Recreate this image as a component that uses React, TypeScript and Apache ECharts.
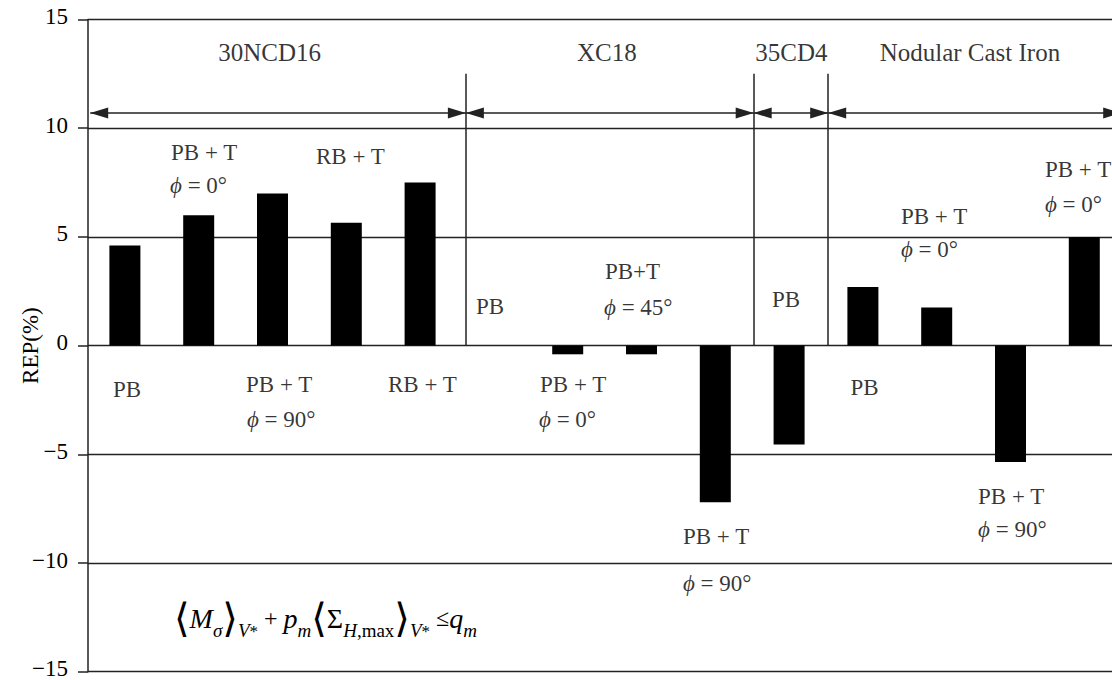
import React, { useEffect, useRef } from "react";
import * as echarts from "echarts";

// ---- data ----
const categories = [
  "30NCD16 PB",
  "30NCD16 PB+T φ=0°",
  "30NCD16 PB+T φ=90°",
  "30NCD16 RB+T (a)",
  "30NCD16 RB+T (b)",
  "XC18 PB",
  "XC18 PB+T φ=0°",
  "XC18 PB+T φ=45°",
  "XC18 PB+T φ=90°",
  "35CD4 PB",
  "Nodular Cast Iron PB",
  "Nodular Cast Iron PB+T φ=0° (a)",
  "Nodular Cast Iron PB+T φ=90°",
  "Nodular Cast Iron PB+T φ=0° (b)",
];
const repValues = [4.6, 6.0, 7.0, 5.65, 7.5, 0, -0.4, -0.4, -7.2, -4.55, 2.7, 1.75, -5.35, 5.0];
const yMin = -15;
const yMax = 15;
const yStep = 5;
const groupNames = ["30NCD16", "XC18", "35CD4", "Nodular Cast Iron"];
const yAxisName = "REP(%)";

// ---- annotation layout (category-index / value coordinates) ----
const groupBounds = [-0.47, 4.62, 8.52, 9.53, 13.5];
const groupNameX = [1.96, 6.53, 9.03, 11.45];
const groupNameY = 13.48;
const arrowY = 10.7;
const dividerTop = 12.5;

const notes = [
  { text: "PB + T", x: 0.625, y: 8.86 },
  { text: "{i|ϕ} = 0°", x: 0.611, y: 7.38 },
  { text: "RB + T", x: 2.589, y: 8.72 },
  { text: "PB", x: -0.161, y: -2.04 },
  { text: "PB + T", x: 1.641, y: -1.81 },
  { text: "{i|ϕ} = 90°", x: 1.654, y: -3.42 },
  { text: "RB + T", x: 3.565, y: -1.81 },
  { text: "PB", x: 4.757, y: 1.82 },
  { text: "PB+T", x: 6.505, y: 3.39 },
  { text: "{i|ϕ} = 45°", x: 6.492, y: 1.73 },
  { text: "PB + T", x: 5.625, y: -1.77 },
  { text: "{i|ϕ} = 0°", x: 5.611, y: -3.42 },
  { text: "PB + T", x: 7.562, y: -8.76 },
  { text: "{i|ϕ} = 90°", x: 7.562, y: -10.92 },
  { text: "PB", x: 8.768, y: 2.1 },
  { text: "PB", x: 9.833, y: -1.95 },
  { text: "PB + T", x: 10.516, y: 5.92 },
  { text: "{i|ϕ} = 0°", x: 10.516, y: 4.4 },
  { text: "PB + T", x: 11.56, y: -6.92 },
  { text: "{i|ϕ} = 90°", x: 11.56, y: -8.48 },
  { text: "PB + T", x: 12.467, y: 8.08 },
  { text: "{i|ϕ} = 0°", x: 12.467, y: 6.47 },
];

const formula =
  "{br|⟨}{it|M}{sub|σ}{br|⟩}{vs|V}{st|*}{op| + }{it|p}{sub|m}{br|⟨}{rm|Σ}{sub|H}{subr|,max}{br|⟩}{vs|V}{st|*}{op| ≤}{it|q}{sub|m}";

export default function App() {
  const ref = useRef<HTMLDivElement>(null);
  useEffect(() => {
    if (!ref.current) return;
    const chart = echarts.init(ref.current, null, { renderer: "svg" });
    const font = "'Liberation Serif', 'Times New Roman', 'DejaVu Serif', serif";
    const ink = "#000";
    const lineColor = "#222";
    const phiRich = {
      i: { fontStyle: "italic", fontFamily: font, fontSize: 23, color: ink },
    };
    const spans = groupBounds.slice(0, -1).map((a, i) => [a, groupBounds[i + 1]]);
    chart.setOption({
      animation: false,
      backgroundColor: "#ffffff",
      grid: {
        left: 88,
        right: -9.2,
        top: 19.5,
        bottom: 8.3,
        containLabel: false,
        outerBoundsMode: "none",
      },
      xAxis: { type: "value", min: -0.5, max: 13.5, show: false },
      yAxis: {
        type: "value",
        min: yMin,
        max: yMax,
        interval: yStep,
        name: yAxisName,
        nameLocation: "middle",
        nameGap: 46,
        nameMoveOverlap: false,
        nameTextStyle: { fontFamily: font, fontSize: 23, color: ink },
        axisLine: { show: true, onZero: false, lineStyle: { color: lineColor, width: 1.5 } },
        axisTick: { show: true, length: 10, lineStyle: { color: lineColor, width: 1.5 } },
        axisLabel: {
          margin: 20,
          fontFamily: font,
          fontSize: 23,
          color: ink,
          verticalAlign: "bottom",
          lineHeight: 6,
          formatter: (v: number) => (v < 0 ? "\u2212" + Math.abs(v) : String(v)),
        },
        splitLine: { show: true, lineStyle: { color: lineColor, width: 1.3 } },
      },
      series: [
        {
          type: "bar",
          name: "REP",
          data: repValues.map((v, i) => [i, v]),
          barWidth: 31,
          itemStyle: { color: "#000" },
          silent: true,
          markLine: {
            silent: true,
            animation: false,
            symbol: ["triangle", "triangle"],
            symbolSize: [11, 18],
            symbolOffset: [
              [0, 9],
              [0, 9],
            ],
            label: { show: false },
            lineStyle: { color: lineColor, width: 1.5, type: "solid" },
            data: spans.map(([a, b]) => [{ coord: [a, arrowY] }, { coord: [b, arrowY] }]),
          },
        },
        {
          type: "scatter",
          name: "notes",
          data: notes.map((n) => [n.x, n.y]),
          symbolSize: 0,
          itemStyle: { color: "rgba(0,0,0,0)" },
          silent: true,
          label: {
            show: true,
            position: "inside",
            align: "left",
            verticalAlign: "middle",
            fontFamily: font,
            fontSize: 23,
            color: ink,
            rich: phiRich,
            formatter: (p: any) => notes[p.dataIndex].text,
          },
          markLine: {
            silent: true,
            animation: false,
            symbol: ["none", "none"],
            label: { show: false },
            lineStyle: { color: lineColor, width: 1.5, type: "solid" },
            data: groupBounds.slice(1, -1).map((x) => [{ coord: [x, dividerTop] }, { coord: [x, 0] }]),
          },
        },
        {
          type: "scatter",
          name: "groups",
          data: groupNameX.map((x) => [x, groupNameY]),
          symbolSize: 0,
          itemStyle: { color: "rgba(0,0,0,0)" },
          silent: true,
          label: {
            show: true,
            position: "inside",
            align: "center",
            verticalAlign: "middle",
            fontFamily: font,
            fontSize: 25,
            color: ink,
            formatter: (p: any) => groupNames[p.dataIndex],
          },
        },
      ],
      graphic: [
        {
          type: "text",
          left: 174,
          top: 598,
          silent: true,
          style: {
            text: formula,
            fontFamily: font,
            fontSize: 26,
            fill: ink,
            rich: {
              br: { fontFamily: "'DejaVu Serif', serif", fontSize: 40, lineHeight: 44, fill: ink },
              it: { fontFamily: font, fontStyle: "italic", fontSize: 28, fill: ink },
              rm: { fontFamily: font, fontSize: 28, fill: ink },
              op: { fontFamily: font, fontSize: 24, fill: ink },
              sub: { fontFamily: font, fontStyle: "italic", fontSize: 19, lineHeight: 26, verticalAlign: "bottom", fill: ink },
              subr: { fontFamily: font, fontSize: 19, lineHeight: 26, verticalAlign: "bottom", fill: ink },
              vs: { fontFamily: font, fontStyle: "italic", fontSize: 19, lineHeight: 12, verticalAlign: "bottom", fill: ink },
              st: { fontFamily: font, fontSize: 17, lineHeight: 30, verticalAlign: "bottom", fill: ink },
            },
          },
        },
      ],
    });
    return () => chart.dispose();
  }, []);
  return <div ref={ref} style={{ position: "absolute", left: 0, top: 0, width: 1112, height: 680 }} />;
}
